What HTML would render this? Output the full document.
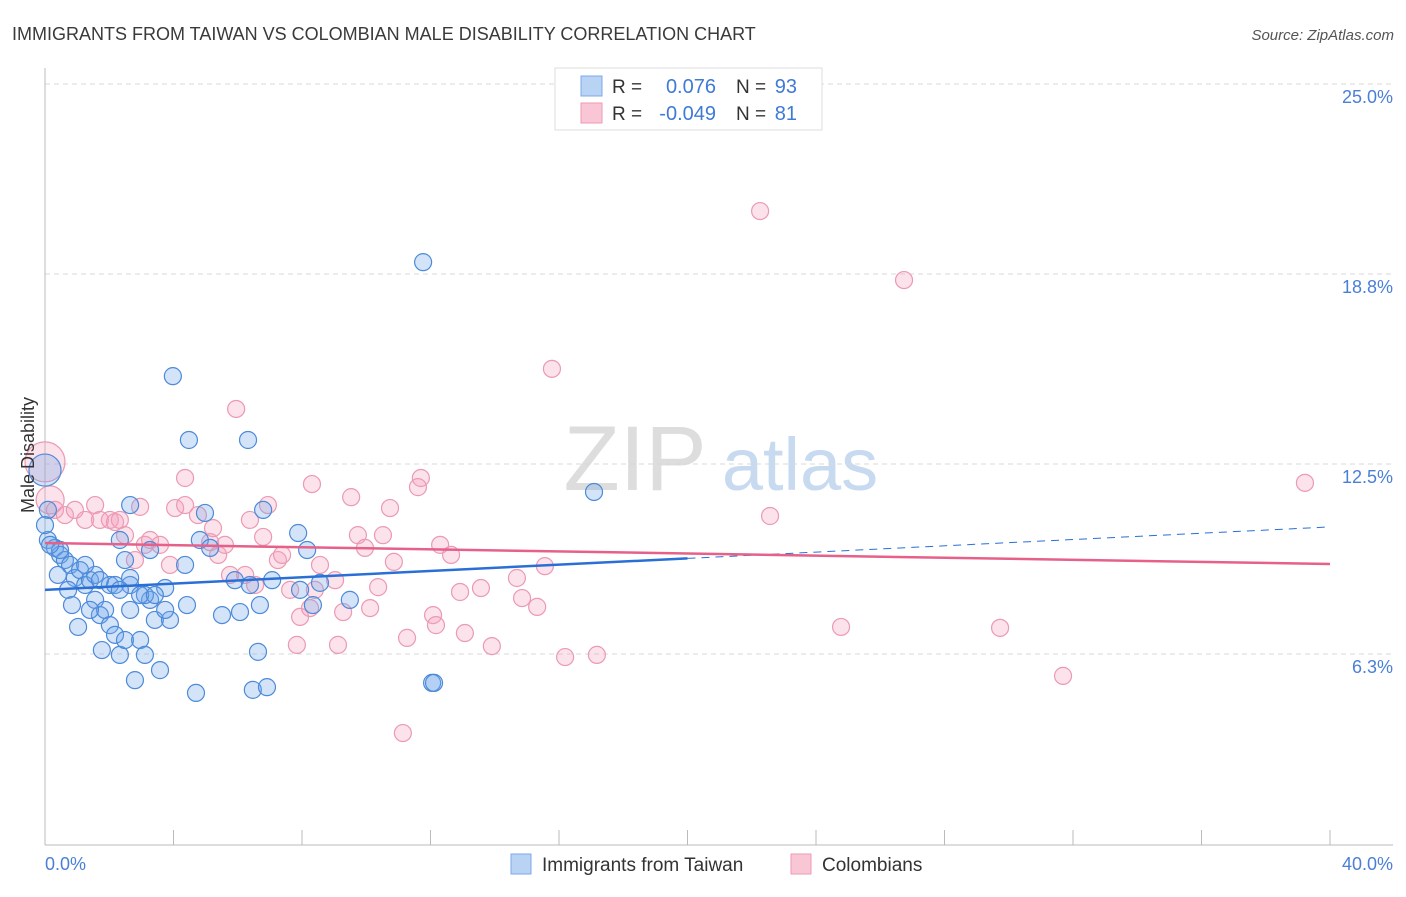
<!DOCTYPE html>
<html><head><meta charset="utf-8"><style>
body{margin:0;background:#fff;font-family:"Liberation Sans",sans-serif}
svg text{font-family:"Liberation Sans",sans-serif}
</style></head><body>
<svg id="chart" width="1406" height="892" xmlns="http://www.w3.org/2000/svg">
<text x="12" y="40" font-size="18" fill="#3a3a3a">IMMIGRANTS FROM TAIWAN VS COLOMBIAN MALE DISABILITY CORRELATION CHART</text>
<text x="1394" y="40" font-size="15" fill="#555" text-anchor="end" font-style="italic">Source: ZipAtlas.com</text>
<g>
<text x="635" y="490" font-size="92" fill="#ddd" font-family="Liberation Serif" text-anchor="middle">ZIP</text>
<text x="800" y="490" font-size="74" fill="#c8daf0" text-anchor="middle">atlas</text>
</g>
<g id="grid"></g>
<g id="axes"></g>
<g id="pts"></g>
<g id="lines"></g>
<text transform="translate(34,455) rotate(-90)" font-size="18" fill="#333" text-anchor="middle">Male Disability</text>
<text x="45" y="870" font-size="18" fill="#4a7fd6">0.0%</text>
<text x="1393" y="870" font-size="18" fill="#4a7fd6" text-anchor="end">40.0%</text>
<g>
<rect x="555" y="68" width="267" height="62" fill="#fff" stroke="#ddd"/>
<rect x="581" y="76" width="21" height="20" fill="#b9d3f5" stroke="#7fa9e6"/>
<rect x="581" y="103" width="21" height="20" fill="#f9c6d6" stroke="#ee9ab4"/>
<text x="612" y="93" font-size="19" fill="#333">R =</text>
<text x="716" y="93" font-size="20" fill="#3f7ad6" text-anchor="end">0.076</text>
<text x="736" y="93" font-size="19" fill="#333">N =</text>
<text x="797" y="93" font-size="20" fill="#3f7ad6" text-anchor="end">93</text>
<text x="612" y="120" font-size="19" fill="#333">R =</text>
<text x="716" y="120" font-size="20" fill="#3f7ad6" text-anchor="end">-0.049</text>
<text x="736" y="120" font-size="19" fill="#333">N =</text>
<text x="797" y="120" font-size="20" fill="#3f7ad6" text-anchor="end">81</text>
</g>
<g>
<rect x="511" y="854" width="20" height="20" fill="#b9d3f5" stroke="#7fa9e6"/>
<text x="542" y="871" font-size="19" fill="#333">Immigrants from Taiwan</text>
<rect x="791" y="854" width="20" height="20" fill="#f9c6d6" stroke="#ee9ab4"/>
<text x="822" y="871" font-size="19" fill="#333">Colombians</text>
</g>
</svg>
<script>
const yTicks=[25,18.75,12.5,6.25];
const yTickLabels=["25.0%","18.8%","12.5%","6.3%"];
const xTicks=[0,4,8,12,16,20,24,28,32,36,40];
const blueX=[0.09,0.31,0.47,0.62,0.78,0.40,0.93,1.09,1.25,1.40,0.72,0.84,1.56,1.71,1.87,2.02,1.03,2.18,1.77,2.33,2.49,2.80,2.96,3.11,3.27,3.42,3.58,3.11,2.65,2.49,2.65,3.27,3.74,3.89,3.98,4.48,4.42,4.36,4.70,4.82,4.98,5.14,5.51,6.07,5.91,6.32,6.38,6.69,6.47,6.91,6.63,6.79,7.07,7.88,7.94,8.16,8.34,8.56,9.49,11.77,12.05,12.11,17.09,2.65,2.33,2.02,1.56,1.25,2.18,1.71,2.65,2.96,3.42,3.74,2.33,1.40,0.47,0.16,0,0.09,0];
const blueY=[10.00,9.74,9.51,9.34,9.18,8.85,8.75,9.01,8.52,8.68,8.36,7.86,8.03,7.53,7.70,7.20,7.14,6.88,6.38,6.22,6.71,5.39,6.71,6.22,8.03,7.37,5.72,8.19,8.52,9.34,11.15,9.67,8.42,7.37,15.39,13.29,7.86,9.18,4.97,10.00,10.89,9.74,7.53,7.63,8.68,13.29,8.52,7.86,5.07,5.16,6.32,10.99,8.68,10.23,8.36,9.67,7.86,8.59,8.03,19.14,5.30,5.30,11.58,8.75,10.00,8.52,8.85,9.18,8.52,8.68,7.70,8.19,8.19,7.70,8.36,7.70,9.67,9.84,12.30,10.99,10.49];
const pinkX=[0,0.16,0.31,0.62,0.93,1.25,1.56,1.71,2.02,2.18,2.49,2.33,2.96,3.11,2.80,3.27,3.58,3.89,4.05,4.36,4.36,4.76,5.14,5.23,5.39,5.60,5.95,5.76,6.23,6.38,6.54,6.79,6.94,7.25,7.38,7.63,7.84,7.94,8.25,8.31,8.40,8.56,9.03,9.12,9.28,9.53,9.74,9.96,10.12,10.37,10.52,10.74,10.86,11.14,11.27,11.61,11.70,12.08,12.17,12.30,12.64,12.92,13.07,13.57,13.91,14.69,14.85,15.32,15.56,15.78,16.19,17.18,22.26,22.57,24.78,26.74,29.73,31.69,39.22];
const pinkY=[12.57,11.32,10.99,10.82,10.99,10.66,11.15,10.66,10.66,10.59,10.16,10.66,11.09,9.84,9.34,10.00,9.84,9.18,11.05,12.04,11.15,10.82,9.93,10.39,9.51,9.84,14.31,8.85,8.85,10.66,8.52,10.10,11.15,9.34,9.51,8.36,6.55,7.47,7.76,11.84,8.36,9.18,8.68,6.55,7.63,11.41,10.16,9.74,7.76,8.45,10.16,11.05,9.28,3.65,6.78,11.74,12.04,7.53,7.20,9.84,9.51,8.29,6.94,8.42,6.51,8.75,8.09,7.80,9.14,15.63,6.15,6.22,20.82,10.79,7.14,18.55,7.11,5.53,11.88];
const blueTrend=[8.36,10.43];
const pinkTrend=[9.90,9.21];
const X=v=>45+v*32.125, Y=v=>844-v*30.4;
const NS="http://www.w3.org/2000/svg";
function mk(parent,tag,attrs){const e=document.createElementNS(NS,tag);for(const k in attrs)e.setAttribute(k,attrs[k]);document.getElementById(parent).appendChild(e);return e;}
yTicks.forEach((t,i)=>{
 const l=mk('grid','line',{x1:45,x2:1393,y1:Y(t),y2:Y(t),stroke:'#d8d8d8','stroke-dasharray':'5,4'});
 
 
 const tx=mk('grid','text',{x:1393,y:Y(t)+19,'font-size':18,fill:'#4a7fd6','text-anchor':'end'});
 tx.textContent=yTickLabels[i];
 
 
});
const ax=mk('axes','line',{x1:45,x2:45,y1:68,y2:845,stroke:'#bbb'});


const bx=mk('axes','line',{x1:45,x2:1393,y1:845,y2:845,stroke:'#bbb'});


xTicks.forEach(t=>{
 const l=mk('axes','line',{x1:X(t),x2:X(t),y1:830,y2:845,stroke:'#bbb'});
 
 
});
function dot(x,y,r,fill,stroke,name){
 const c=mk('pts','circle',{cx:X(x),cy:Y(y),r:r,fill:fill,stroke:stroke,'stroke-width':1.2});
 
 
}
pinkX.forEach((x,i)=>dot(x,pinkY[i],i==0?20:(i==1?14:8.5),'rgba(245,160,188,0.3)','#eb9ab3','colombian-point'));
blueX.forEach((x,i)=>dot(x,blueY[i],i==78?16:8.5,'rgba(110,165,235,0.3)','#4d8ad9','taiwan-point'));
const b1=mk('lines','line',{x1:X(0),y1:Y(blueTrend[0]),x2:X(20),y2:Y(blueTrend[0]+(blueTrend[1]-blueTrend[0])/2),stroke:'#2a6fd6','stroke-width':2.5});


const b2=mk('lines','line',{x1:X(20),y1:Y(blueTrend[0]+(blueTrend[1]-blueTrend[0])/2),x2:X(40),y2:Y(blueTrend[1]),stroke:'#2a6fd6','stroke-width':1,'stroke-dasharray':'8,6'});


const p1=mk('lines','line',{x1:X(0),y1:Y(pinkTrend[0]),x2:X(40),y2:Y(pinkTrend[1]),stroke:'#e6608a','stroke-width':2.5});


</script>
</body></html>
